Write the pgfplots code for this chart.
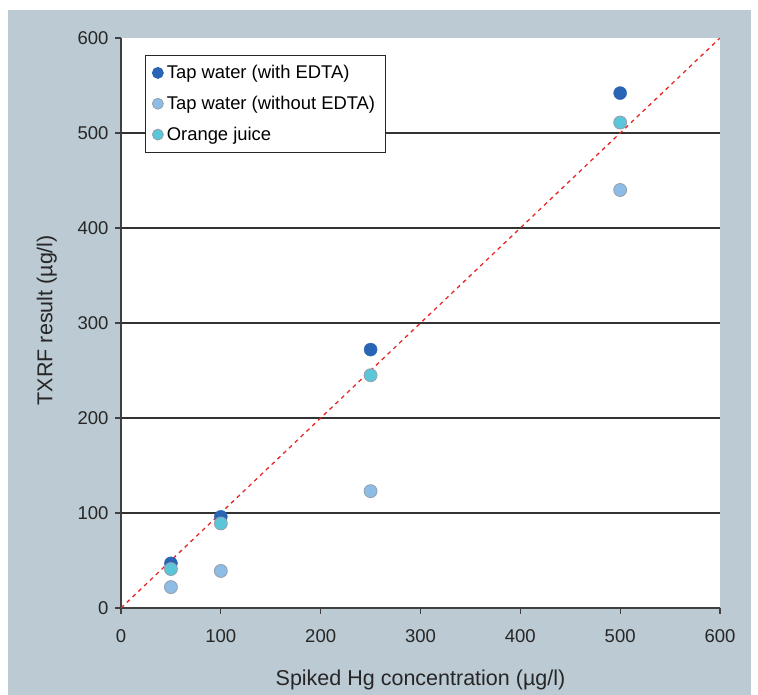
\documentclass[border=0pt]{standalone}
\usepackage{pgfplots}
\pgfplotsset{compat=1.18}
\usepackage{fontspec}
\setmainfont{Liberation Sans}

\definecolor{bgpanel}{RGB}{188,202,211}
\definecolor{clrEDTA}{RGB}{41,101,180}
\definecolor{clrNoEDTA}{RGB}{141,189,230}
\definecolor{clrJuice}{RGB}{91,197,217}
\definecolor{clrEdge}{RGB}{150,160,170}
\definecolor{clrDiag}{RGB}{232,40,40}

\begin{document}
\begin{tikzpicture}
  % outer panel
  \fill[white] (0pt,0pt) rectangle (758pt,695pt);
  \fill[bgpanel] (8pt,0pt) rectangle (751pt,685pt);
  \begin{axis}[
    at={(121pt,87pt)}, anchor=south west,
    scale only axis,
    width=599pt, height=570pt,
    xmin=0, xmax=600, ymin=0, ymax=600,
    xtick={0,100,...,600}, ytick={0,100,...,600},
    axis lines=left,
    axis line style={-, draw=black!75, line width=1.1pt},
    tick style={draw=black!75, line width=1.1pt},
    tick align=outside, major tick length=6pt,
    axis background/.style={fill=white},
    extra y ticks={100,200,300,400,500},
    extra y tick labels={},
    extra y tick style={ymajorgrids=true, major tick length=0pt},
    y grid style={draw=black!80, line width=1.1pt},
    /pgf/number format/assume math mode=true,
    ticklabel style={font=\fontsize{18.5}{22}\selectfont, text=black!85},
    xticklabel style={yshift=-12pt},
    yticklabel style={xshift=-3pt},
    label style={font=\fontsize{21.5}{26}\selectfont, text=black!85},
    xlabel={Spiked Hg concentration (µg/l)},
    ylabel={TXRF result (µg/l)},
    xlabel style={at={(axis description cs:0.5,-0.126)}, anchor=center},
    ylabel style={at={(axis description cs:-0.124,0.505)}, anchor=center},
    legend style={at={(0.04,0.97)}, anchor=north west,
      draw=black!85, line width=0.8pt, fill=white,
      font=\fontsize{18.4}{22}\selectfont,
      row sep=12pt, inner xsep=7pt, inner ysep=8pt,
      nodes={inner ysep=2pt, inner xsep=3.5pt}},
    legend cell align=left,
    legend image code/.code={\draw[#1, mark size=5.5pt] plot coordinates {(0.1cm,0cm)};},
  ]
  \addplot[clrDiag, line width=1.3pt, dash pattern=on 4pt off 4pt, forget plot]
    coordinates {(0,0) (600,600)};
  \addplot[only marks, mark=*, mark size=6.5pt, draw=clrEDTA, fill=clrEDTA]
    coordinates {(50,47) (100,96) (250,272) (500,542)};
  \addlegendentry{Tap water (with EDTA)}
  \addplot[only marks, mark=*, mark size=6.5pt, draw=clrEdge, fill=clrNoEDTA, line width=0.8pt]
    coordinates {(50,22) (100,39) (250,123) (500,440)};
  \addlegendentry{Tap water (without EDTA)}
  \addplot[only marks, mark=*, mark size=6.5pt, draw=clrEdge, fill=clrJuice, line width=0.8pt]
    coordinates {(50,41) (100,89) (250,245) (500,511)};
  \addlegendentry{Orange juice}
  \end{axis}
  \pgfresetboundingbox
  \path (0pt,0pt) rectangle (758pt,695pt);
\end{tikzpicture}
\end{document}
